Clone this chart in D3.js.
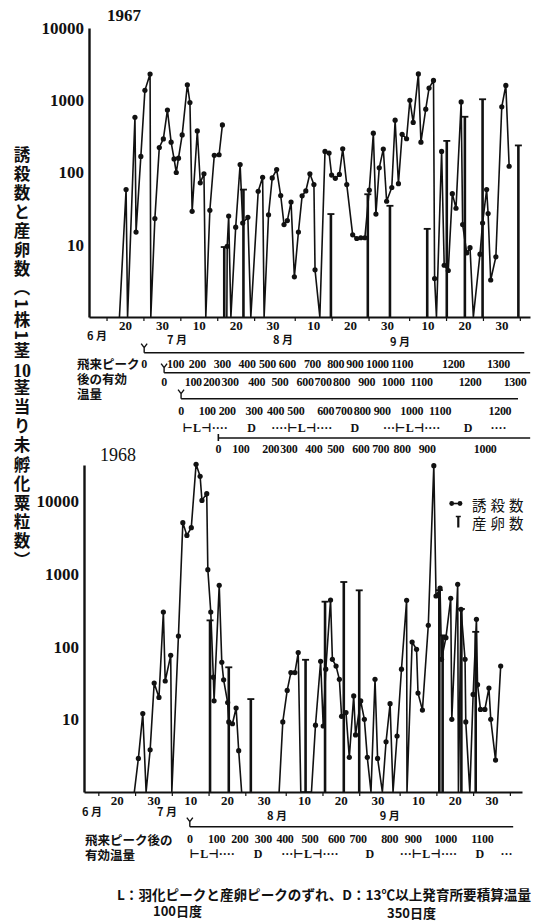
<!DOCTYPE html>
<html>
<head>
<meta charset="utf-8">
<script src="https://cdn.jsdelivr.net/npm/d3@7"></script>
<style>
  body { margin: 0; background: #fff; }
  #wrap { position: relative; width: 536px; height: 921px; }
  svg { display: block; }
  #ytitle {
    position: absolute; left: 13px; top: 146px;
    writing-mode: vertical-rl; text-orientation: mixed;
    font-family: 'Noto Sans CJK JP', 'Noto Sans CJK SC', sans-serif;
    font-size: 16.5px; font-weight: bold; letter-spacing: 2.6px; line-height: 18px; color: #111;
  }
  #ytitle .tcy { text-combine-upright: all; font-family: 'Liberation Serif', serif; font-size: 18px; }
</style>
</head>
<body>
<div id="wrap">
<svg id="chart" width="536" height="921"></svg>
<div id="ytitle"></div>
</div>
<script>
// x values are day numbers counted from June 1 (= 1); July 10 = 40, Aug 10 = 71, Sep 10 = 102
// a value of 0 sits on the baseline, null breaks the line

// 1967 誘殺数 (light-trap catch)
const catch1967 = [
  [18.5, 0], [20.3, 58], [20.7, 0], [22.7, 580], [23.0, 15], [24.3, 167], [25.4, 1370], [26.8, 2300],
  [27.0, 0], [28.1, 23], [29.3, 222], [30.4, 292], [31.5, 730], [32.5, 263], [33.3, 154], [33.9, 100],
  [34.5, 158], [35.5, 331], [36.9, 1640], [37.6, 930], [38.2, 29], [39.6, 376], [40.4, 72], [41.4, 96],
  [41.9, 0], [43.0, 30], [44.2, 173], [45.5, 176], [46.4, 455],
  null,
  [47.6, 0], [47.7, 9.5], [48.1, 25], [48.7, 0], [50.0, 17.5], [51.2, 129], [51.9, 20], [53.3, 24],
  [54.1, 0], [56.1, 55], [57.3, 86], [57.7, 0], [58.9, 26], [59.9, 84], [61.1, 110], [62.2, 48],
  [63.1, 19], [64.0, 21.6], [65.0, 39], [65.9, 3.6], [67.0, 15], [68.0, 47.5], [69.0, 55.5], [70.1, 96],
  [71.2, 68], [71.5, 4.5], [72.8, 0], [74.2, 196], [75.3, 186], [76.0, 92], [77.0, 83], [78.1, 94],
  [79.0, 213], [80.1, 68], [81.7, 13.7], [82.8, 12.2], [83.9, 12.5], [85.0, 12.5], [86.2, 57], [87.3, 350],
  [88.0, 26.6], [88.9, 116], [90.0, 211], [90.9, 40], [92.3, 62], [93.2, 530], [94.1, 70], [95.1, 338],
  [96.3, 293], [97.2, 1000], [98.1, 494], [99.5, 2317], [100.2, 263], [101.5, 753], [102.4, 1476], [103.6, 1879],
  [103.9, 3.4], [104.4, 0], [105.8, 196], [106.5, 5.2], [107.6, 4.4], [108.7, 51], [109.7, 32], [111.1, 948],
  [111.5, 19], [112.6, 7.7], [113.5, 9.1], [114.4, 0], [116.2, 7.4], [116.9, 20], [118.0, 58], [118.4, 27],
  [119.1, 3.25], [120.5, 6.8], [122.1, 811], [123.2, 1603], [124.1, 122]
];
// 1967 産卵数 (egg counts)
const eggs1967 = [
  [46.9, 9.3], [52.1, 58], [75.8, 26.6], [85.8, 50], [91.8, 34.6], [101.9, 16.6],
  [107.2, 274], [112.1, 591], [116.9, 1032], [126.6, 237]
];

// 1968 誘殺数
const catch1968 = [
  [24.8, 0], [25.9, 2.9], [27.1, 12], [28.0, 0], [29.1, 3.8], [30.2, 31.6], [31.5, 20], [32.7, 300],
  [33.2, 33.7], [34.7, 76], [35.0, 0], [36.8, 140], [38.0, 5085], [39.1, 3400], [40.3, 4345], [41.6, 32300],
  [42.7, 22100], [43.2, 10300], [44.5, 12760], [44.8, 1148], [45.6, 300], [46.3, 38], [46.5, 18], [47.9, 698],
  [48.6, 61], [49.1, 35], [50.2, 17], [50.5, 9.2], [51.5, 8.7], [52.5, 14.3], [53.2, 3.7], [54.0, 0],
  null,
  [64.2, 0], [65.2, 9.2], [66.4, 25], [67.4, 44], [68.5, 44], [69.4, 83], [70.1, 0], [73.0, 0],
  [74.1, 8.3], [75.5, 63], [76.2, 8.1], [76.9, 49], [78.2, 439], [78.7, 67], [79.7, 54], [80.6, 35.5],
  [81.2, 11], [82.4, 12.4], [83.3, 3.0], [84.5, 21], [85.0, 6.1], [86.4, 17.9], [87.4, 10], [88.2, 3.0],
  [89.2, 0], [90.3, 35.5], [91.0, 2.9], [92.3, 0], [93.3, 4.9], [94.4, 16.4], [95.2, 0], [96.3, 5.9],
  [97.5, 49], [98.9, 434], [99.0, 0], [100.4, 116], [101.6, 92], [102.0, 23], [103.2, 13.4], [104.8, 197],
  [106.3, 31000], [106.9, 498], [108.0, 640], [108.4, 67], [109.6, 133], [110.9, 462], [111.2, 10], [112.8, 720],
  [113.0, 0], [113.7, 326], [114.8, 67], [115.0, 9.2], [116.1, 0], [117.0, 22], [117.9, 238], [118.2, 30],
  [119.0, 13.7], [120.2, 13.7], [121.3, 27], [121.8, 10], [123.1, 2.75], [124.5, 54]
];
// 1968 産卵数
const eggs1968 = [
  [45.4, 230], [50.5, 52], [56.5, 19], [71.4, 66], [76.7, 416], [81.8, 776],
  [86.0, 596], [107.8, 600], [108.7, 143], [113.8, 330], [117.7, 160]
];

const yTicks1967 = [10, 100, 1000, 10000];
const yTicks1968 = [10, 100, 1000, 10000];
const dayTicks = [20, 30, 40, 50, 60, 71, 81, 91, 102, 112, 122];
const dayMinorTicks = [15, 25, 35, 45, 55, 66, 76, 86, 97, 107, 117, 127];
const months1967 = [[12.4, "6 月"], [34.1, "7 月"], [62.8, "8 月"], [94.5, "9 月"]];
const months1968 = [[13.3, "6 月"], [33.7, "7 月"], [63.6, "8 月"], [94.3, "9 月"]];

// effective temperature scales (day where each 100-degree step is reached)
const heatA1967 = [25.2, 33.7, 39.6, 46.4, 53.1, 58.6, 64.0, 70.8, 77.1, 82.3, 88.4, 95.1, 109.0, 121.2];
const heatB1967 = [30.6, 38.5, 43.5, 48.5, 55.7, 62.0, 68.8, 73.7, 78.7, 85.5, 92.7, 100.4, 113.5, 125.7];
const heatC1967 = [35.2, 42.3, 47.7, 55.0, 60.8, 66.3, 74.4, 79.3, 84.3, 89.7, 97.7, 105.4, 121.6];
const heatD1967 = [45.3, 51.4, 59.5, 64.4, 71.2, 77.1, 83.9, 89.3, 95.1, 101.9, 117.6];
const heat1968 = [39.9, 47.2, 53.5, 59.9, 65.8, 72.6, 79.8, 85.7, 94.3, 100.7, 109.5, 119.5];
const phase1967 = [[41.7, "⊢L⊣····"], [54.3, "D"], [67.9, "····⊢L⊣····"], [82.3, "D"], [97.7, "···⊢L⊣····"], [113.0, "D"], [121.2, "····"]];
const phase1968 = [[46.0, "⊢L⊣····"], [58.5, "D"], [72.6, "···⊢L⊣····"], [88.9, "D"], [104.8, "···⊢L⊣····"], [118.8, "D"], [126.1, "···"]];

const yTitle = ["誘殺数と産卵数（1株1茎", "10", "茎当り未孵化粟粒数）"];
const caption1967 = ["飛来ピーク", "後の有効", "温量"];
const caption1968 = ["飛来ピーク後の", "有効温量"];

const serif = "'Liberation Serif', 'DejaVu Serif', serif";
const cjk = "'Noto Sans CJK JP', 'Noto Sans CJK SC', sans-serif";

const svg = d3.select("#chart");

const x1 = d3.scaleLinear().domain([10.25, 129.75]).range([89, 530]);
const y1 = d3.scaleLog().domain([1, 1e4]).range([317, 28]);
const x2 = d3.scaleLinear().domain([11.1, 130.3]).range([84, 522]);
const y2 = d3.scaleLog().domain([1, 10 ** 4.5]).range([792, 465]);

const dayOfMonth = d => new Date(1967, 5, d).getDate();

function drawPanel(x, y, yTicks, catchData, eggData, months, monthY) {
  const g = svg.append("g");
  const base = y.range()[0];
  const left = x.range()[0];

  // y axis
  const ya = g.append("g")
    .attr("transform", `translate(${left},0)`)
    .call(d3.axisLeft(y).tickValues(yTicks).tickFormat(d3.format("d")).tickSize(0).tickPadding(5));
  ya.select(".domain").attr("stroke", "#111").attr("stroke-width", 2.4);
  ya.selectAll("text").attr("font-family", serif).attr("font-weight", "bold")
    .attr("font-size", 17).attr("fill", "#111");

  // x axis: labels on 10/20/30, small ticks on 5/15/25
  const xa = g.append("g")
    .attr("transform", `translate(0,${base})`)
    .call(d3.axisBottom(x).tickValues(dayTicks).tickFormat(dayOfMonth).tickSize(0).tickPadding(4));
  xa.select(".domain").attr("stroke", "#111").attr("stroke-width", 2.2);
  xa.selectAll("text").attr("font-family", serif).attr("font-weight", "bold")
    .attr("font-size", 13).attr("fill", "#111");
  g.append("g")
    .attr("transform", `translate(0,${base})`)
    .call(d3.axisBottom(x).tickValues(dayMinorTicks).tickFormat("").tickSize(4))
    .call(a => a.select(".domain").remove())
    .selectAll("line").attr("stroke", "#111").attr("stroke-width", 1.2);

  // month names
  g.selectAll(".month").data(months).enter().append("text")
    .attr("x", d => x(d[0])).attr("y", (d, i) => monthY[i])
    .attr("text-anchor", "middle")
    .attr("font-family", cjk).attr("font-size", 11).attr("font-weight", "bold").attr("fill", "#111")
    .text(d => d[1]);

  // egg counts as capped bars
  const bars = g.selectAll(".egg").data(eggData).enter().append("g");
  bars.append("line")
    .attr("x1", d => x(d[0])).attr("x2", d => x(d[0]))
    .attr("y1", base).attr("y2", d => y(d[1]))
    .attr("stroke", "#111").attr("stroke-width", 2.6);
  bars.append("line")
    .attr("x1", d => x(d[0]) - 3.5).attr("x2", d => x(d[0]) + 3.5)
    .attr("y1", d => y(d[1])).attr("y2", d => y(d[1]))
    .attr("stroke", "#111").attr("stroke-width", 1.8);

  // catch line
  const line = d3.line()
    .defined(d => d !== null)
    .x(d => x(d[0]))
    .y(d => y(Math.max(d[1], 1)));
  g.append("path")
    .datum(catchData)
    .attr("fill", "none").attr("stroke", "#111").attr("stroke-width", 1.6)
    .attr("stroke-linejoin", "round")
    .attr("d", line);
  g.selectAll(".dot").data(catchData.filter(d => d && d[1] > 0)).enter().append("circle")
    .attr("cx", d => x(d[0])).attr("cy", d => y(d[1])).attr("r", 2.6).attr("fill", "#111");
}

drawPanel(x1, y1, yTicks1967, catch1967, eggs1967, months1967, [340, 344, 344, 346]);
drawPanel(x2, y2, yTicks1968, catch1968, eggs1968, months1968, [816, 816, 820, 820]);

// year labels
svg.append("text").attr("x", 107).attr("y", 21).attr("font-family", serif).attr("font-weight", "bold")
  .attr("font-size", 17).attr("fill", "#111").text("1967");
svg.append("text").attr("x", 100).attr("y", 461).attr("font-family", serif)
  .attr("font-size", 18).attr("fill", "#111").text("1968");

// effective temperature rows
function heatRow(x, days, lineY, labelY, endDay, mark) {
  const g = svg.append("g");
  const x0 = x(days[0]);
  g.append("line").attr("x1", x0).attr("x2", x(endDay)).attr("y1", lineY).attr("y2", lineY)
    .attr("stroke", "#111").attr("stroke-width", 1.6);
  if (mark === "arrow") {
    g.append("path")
      .attr("d", `M${x0 - 3},${lineY - 9}L${x0},${lineY - 5}L${x0 + 3},${lineY - 9}M${x0},${lineY - 5}V${lineY}`)
      .attr("fill", "none").attr("stroke", "#111").attr("stroke-width", 1.4);
  } else {
    g.append("line").attr("x1", x0).attr("x2", x0).attr("y1", lineY - 4).attr("y2", lineY + 3)
      .attr("stroke", "#111").attr("stroke-width", 1.6);
  }
  g.selectAll("text").data(days).enter().append("text")
    .attr("x", d => x(d)).attr("y", labelY)
    .attr("text-anchor", "middle").attr("dominant-baseline", "central")
    .attr("font-family", serif).attr("font-weight", "bold").attr("font-size", 12)
    .attr("letter-spacing", -0.3).attr("fill", "#111")
    .text((d, i) => i * 100);
}
heatRow(x1, heatA1967, 352.7, 363.5, 128.2, "arrow");
heatRow(x1, heatB1967, 372.7, 382, 129.8, "arrow");
heatRow(x1, heatC1967, 398.7, 410.5, 126.5, "arrow");
heatRow(x1, heatD1967, 438, 448.5, 129.8, "tick");
heatRow(x2, heat1968, 826.7, 838.5, 127.9, "arrow");

function phaseRow(x, items, rowY) {
  svg.append("g").selectAll("text").data(items).enter().append("text")
    .attr("x", d => x(d[0])).attr("y", rowY)
    .attr("text-anchor", "middle").attr("dominant-baseline", "central")
    .attr("font-family", serif).attr("font-weight", "bold").attr("font-size", 12).attr("fill", "#111")
    .text(d => d[1]);
}
phaseRow(x1, phase1967, 428);
phaseRow(x2, phase1968, 853.5);

// left captions of the temperature rows, one text block each
function caption(lines, x0, ys) {
  svg.append("text")
    .attr("font-family", cjk).attr("font-size", 12.5).attr("font-weight", "bold")
    .attr("fill", "#111").attr("dominant-baseline", "central")
    .selectAll("tspan").data(lines).enter().append("tspan")
    .attr("x", x0).attr("y", (d, i) => ys[i]).text(d => d);
}
caption(caption1967, 77, [363, 377.5, 393]);
caption(caption1968, 85, [838.5, 853.5]);

// vertical y-axis title, "10" set upright in one cell
const yt = d3.select("#ytitle");
yTitle.forEach((part, i) => {
  yt.append("span").attr("class", i === 1 ? "tcy" : null).text(part);
});

// legend
const lg = svg.append("g");
lg.append("line").attr("x1", 451.7).attr("x2", 460).attr("y1", 503.5).attr("y2", 503.5)
  .attr("stroke", "#111").attr("stroke-width", 1.6);
lg.selectAll("circle").data([451.7, 460]).enter().append("circle")
  .attr("cx", d => d).attr("cy", 503.5).attr("r", 2.4).attr("fill", "#111");
lg.append("line").attr("x1", 458.3).attr("x2", 458.3).attr("y1", 516.5).attr("y2", 527.5)
  .attr("stroke", "#111").attr("stroke-width", 2.2);
lg.append("line").attr("x1", 455.8).attr("x2", 460.8).attr("y1", 516.5).attr("y2", 516.5)
  .attr("stroke", "#111").attr("stroke-width", 1.5);
lg.append("text")
  .attr("font-family", cjk).attr("font-size", 14.5).attr("letter-spacing", 4)
  .attr("fill", "#111").attr("dominant-baseline", "central")
  .selectAll("tspan").data([["誘殺数", 503.5], ["産卵数", 521.5]]).enter().append("tspan")
  .attr("x", 472).attr("y", d => d[1]).text(d => d[0]);

// footnote as one text block
const foot = svg.append("text").attr("font-family", cjk).attr("fill", "#111").attr("font-weight", "bold")
  .attr("dominant-baseline", "central");
foot.append("tspan").attr("x", 117).attr("y", 894)
  .attr("font-size", 13.5).attr("textLength", 414).attr("lengthAdjust", "spacingAndGlyphs")
  .text("L：羽化ピークと産卵ピークのずれ、D：13℃以上発育所要積算温量");
foot.append("tspan").attr("x", 153).attr("y", 909.5).attr("font-size", 13).text("100日度");
foot.append("tspan").attr("x", 387).attr("y", 911.5).attr("font-size", 13).text("350日度");
</script>
</body>
</html>
